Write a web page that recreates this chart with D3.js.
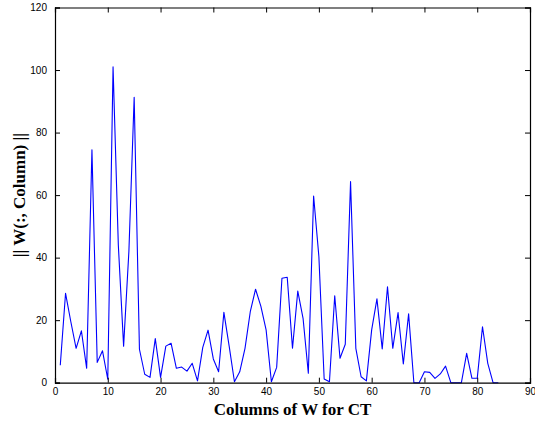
<!DOCTYPE html>
<html>
<head>
<meta charset="utf-8">
<script src="https://cdn.jsdelivr.net/npm/d3@7"></script>
<style>
  html, body { margin: 0; padding: 0; background: #fff; }
  svg { display: block; }
  .tick text { font-family: "Liberation Sans", Arial, sans-serif; font-size: 10px; fill: #000; }
  .lbl { font-family: "Liberation Serif", "Times New Roman", serif; font-weight: bold; font-size: 17px; fill: #000; }
</style>
</head>
<body>
<svg id="chart" width="535" height="424"></svg>
<script>
// Norm of each column of W
const columns = d3.range(1, 85);
const norms = [
  5.6, 28.6, 19.5, 11.0, 16.6, 4.6, 74.5, 6.5, 10.2, 1.1,
  101.0, 44.0, 11.7, 42.0, 91.3, 10.7, 2.7, 1.7, 14.1, 1.7,
  11.7, 12.6, 4.6, 5.0, 3.7, 6.2, 0.6, 11.3, 16.8, 7.6,
  3.5, 22.5, 11.7, 0.3, 3.5, 11.0, 22.7, 29.9, 24.5, 16.9,
  0.3, 4.9, 33.4, 33.7, 11.0, 29.3, 20.6, 3.0, 59.7, 40.3,
  1.2, 0.3, 27.8, 7.8, 12.3, 64.3, 11.0, 1.9, 0.6, 16.9,
  26.8, 10.8, 30.7, 11.0, 22.4, 6.0, 22.0, 0.0, 0.0, 3.5,
  3.3, 1.4, 2.8, 5.3, 0.0, 0.0, 0.0, 9.4, 1.4, 1.4,
  17.9, 6.2, 0.0, 0.0
];
const xTicks = [0, 10, 20, 30, 40, 50, 60, 70, 80, 90];
const yTicks = [0, 20, 40, 60, 80, 100, 120];
const xLabel = "Columns of W for CT";
const yLabel = "|| W(:, Column) ||";

const svg = d3.select("#chart");
const plotLeft = 55, plotRight = 530, plotTop = 7.5, plotBottom = 382.7;

const x = d3.scaleLinear().domain([0, 90]).range([plotLeft, plotRight]);
const y = d3.scaleLinear().domain([0, 120]).range([plotBottom, plotTop]);

// data line
svg.append("path")
  .datum(columns.map((c, i) => [c, norms[i]]))
  .attr("fill", "none")
  .attr("stroke", "#0000ff")
  .attr("stroke-width", 1.1)
  .attr("stroke-linejoin", "round")
  .attr("d", d3.line().x(d => x(d[0])).y(d => y(d[1])));

// axes with inward ticks on all four sides
const tk = 5;
const gB = svg.append("g").attr("transform", `translate(0,${plotBottom})`)
  .call(d3.axisBottom(x).tickValues(xTicks).tickSize(-tk).tickPadding(5).tickFormat(d3.format("d")));
const gL = svg.append("g").attr("transform", `translate(${plotLeft},0)`)
  .call(d3.axisLeft(y).tickValues(yTicks).tickSize(-tk).tickPadding(3 + tk).tickFormat(d3.format("d")));
const gT = svg.append("g").attr("transform", `translate(0,${plotTop})`)
  .call(d3.axisTop(x).tickValues(xTicks).tickSize(-tk).tickFormat(""));
const gR = svg.append("g").attr("transform", `translate(${plotRight},0)`)
  .call(d3.axisRight(y).tickValues(yTicks).tickSize(-tk).tickFormat(""));

[gB, gL, gT, gR].forEach(g => {
  g.select(".domain").attr("stroke", "#000").attr("stroke-width", 1.2);
  g.selectAll(".tick line").attr("stroke", "#000");
});

// axis titles
svg.append("text").attr("class", "lbl")
  .attr("x", (plotLeft + plotRight) / 2).attr("y", 415)
  .attr("text-anchor", "middle").text(xLabel);

svg.append("text").attr("class", "lbl")
  .attr("transform", `translate(25,${(plotTop + plotBottom) / 2}) rotate(-90)`)
  .attr("text-anchor", "middle").text(yLabel);
</script>
</body>
</html>
